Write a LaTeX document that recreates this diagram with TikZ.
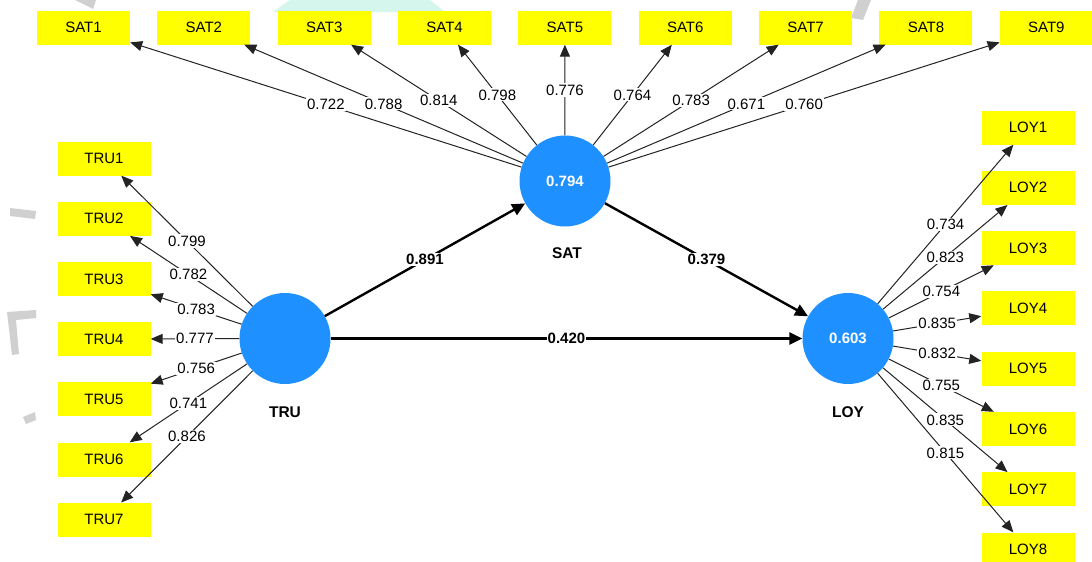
\documentclass[tikz,border=0pt]{standalone}
\usepackage{fontspec}
\setmainfont{Liberation Sans}
\usetikzlibrary{arrows.meta}
\definecolor{lvblue}{RGB}{30,144,255}
\definecolor{indy}{RGB}{255,255,0}
\definecolor{wmgray}{RGB}{208,208,208}
\definecolor{wmteal}{RGB}{212,246,236}
\definecolor{ldline}{RGB}{35,35,35}
\begin{document}
\begin{tikzpicture}[x=1pt,y=-1pt,
  ind/.style={rectangle, fill=indy, minimum width=93pt, minimum height=34pt, inner sep=0pt, font=\fontsize{15}{17}\selectfont},
  lv/.style={circle, fill=lvblue, minimum size=91pt, inner sep=0pt, text=white, font=\bfseries\fontsize{15}{17}\selectfont},
  lvname/.style={font=\bfseries\fontsize{15.5}{17}\selectfont, inner sep=1pt},
  load/.style={draw=ldline, line width=1pt, -{Triangle[length=12pt,width=10pt]}},
  strc/.style={draw=black, line width=2.4pt, -{Triangle[length=13pt,width=12pt]}},
  lab/.style={fill=white, inner sep=1.2pt, font=\fontsize{15}{17}\selectfont},
  slab/.style={fill=white, inner sep=1.2pt, font=\bfseries\fontsize{15}{17}\selectfont}]
\useasboundingbox (0,0) rectangle (1092,562);
\clip (0,0) rectangle (1092,562);
\fill[white] (0,0) rectangle (1092,562);
% watermark fragments
\fill[wmgray] (75,0) -- (96,0) -- (93,9) -- cycle;
\fill[wmteal] (290,0) -- (430,0) -- (445,12) -- (273,12) -- cycle;
\fill[wmgray] (858,0) -- (871,0) -- (863,20) -- (851,18) -- cycle;
\fill[wmgray] (10,208) -- (36,211) -- (35,219) -- (10,216) -- cycle;
\fill[wmgray] (7,312) -- (36,310) -- (36,318) -- (16,320) -- (19,354) -- (12,355) -- cycle;
\fill[wmgray] (23,417) -- (35,412) -- (36,420) -- (26,424) -- cycle;
% latent variables
\node[lv] (SAT) at (565,181) {0.794};
\node[lv] (TRU) at (285,338.5) {};
\node[lv] (LOY) at (848,338.5) {0.603};
\node[lvname] (SATn) at (567,253) {SAT};
\node[lvname] (TRUn) at (285,412) {TRU};
\node[lvname] (LOYn) at (848,412) {LOY};
% indicators
\foreach \i in {1,...,9} \node[ind] (SAT\i) at ({83.5+120.35*(\i-1)},27.5) {SAT\i};
\foreach \i in {1,...,7} \node[ind] (TRU\i) at (104,{158.5+60.2*(\i-1)}) {TRU\i};
\foreach \i in {1,...,8} \node[ind] (LOY\i) at (1028,{127.5+60.3*(\i-1)}) {LOY\i};
% loading lines
\foreach \i in {1,...,9} \draw[load] (SAT) -- (SAT\i);
\foreach \i in {1,...,7} \draw[load] (TRU) -- (TRU\i);
\foreach \i in {1,...,8} \draw[load] (LOY) -- (LOY\i);
% structural paths
\draw[strc] (TRU) -- (SAT);
\draw[strc] (SAT) -- (LOY);
\draw[strc] (TRU) -- (LOY);
% labels
\foreach \i/\v in {1/0.722,2/0.788,3/0.814,4/0.798,5/0.776,6/0.764,7/0.783,8/0.671,9/0.760}
  \path (SAT) -- (SAT\i) node[lab, midway] {\v};
\foreach \i/\v in {1/0.799,2/0.782,3/0.783,4/0.777,5/0.756,6/0.741,7/0.826}
  \path (TRU) -- (TRU\i) node[lab, midway] {\v};
\foreach \i/\v in {1/0.734,2/0.823,3/0.754,4/0.835,5/0.832,6/0.755,7/0.835,8/0.815}
  \path (LOY) -- (LOY\i) node[lab, midway] {\v};
\path (TRU) -- (SAT) node[slab, midway] {0.891};
\path (SAT) -- (LOY) node[slab, midway] {0.379};
\path (TRU) -- (LOY) node[slab, midway] {0.420};
\end{tikzpicture}
\end{document}
